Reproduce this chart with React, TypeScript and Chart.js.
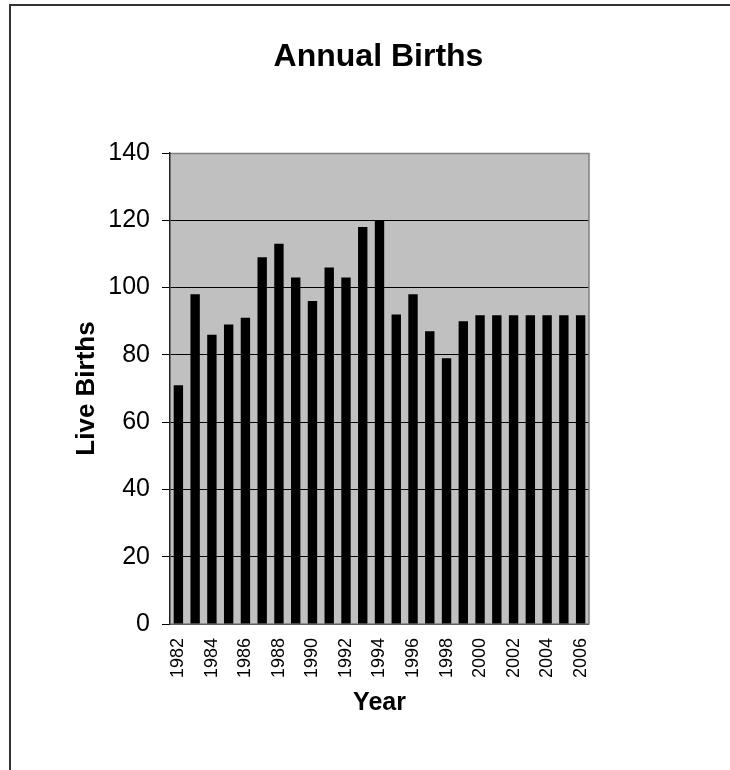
import { useEffect, useRef } from 'react';
import { Chart, registerables } from 'chart.js';

Chart.register(...registerables);

const years = [
  '1982', '1983', '1984', '1985', '1986', '1987', '1988', '1989', '1990', '1991',
  '1992', '1993', '1994', '1995', '1996', '1997', '1998', '1999', '2000', '2001',
  '2002', '2003', '2004', '2005', '2006',
];
const births = [
  71, 98, 86, 89, 91, 109, 113, 103, 96, 106,
  103, 118, 120, 92, 98, 87, 79, 90, 91.8, 91.8,
  91.8, 91.8, 91.8, 91.8, 91.8,
];
const yMin = 0;
const yMax = 140;
const yStep = 20;
const chartTitle = 'Annual Births';
const xTitle = 'Year';
const yTitle = 'Live Births';

const FONT = '"Liberation Sans", Arial, Helvetica, sans-serif';

export default function App() {
  const ref = useRef<HTMLCanvasElement>(null);

  useEffect(() => {
    if (!ref.current) return;
    const plotDeco = {
      id: 'plotDeco',
      beforeDraw(chart: any) {
        const { ctx, chartArea } = chart;
        const { left, top, right, bottom } = chartArea;
        ctx.save();
        ctx.fillStyle = '#C0C0C0';
        ctx.fillRect(left, top, right - left, bottom - top);
        ctx.restore();
      },
      beforeDatasetsDraw(chart: any) {
        const { ctx, chartArea } = chart;
        const { left, top, right, bottom } = chartArea;
        ctx.save();
        ctx.strokeStyle = '#808080';
        ctx.lineWidth = 1.5;
        ctx.beginPath();
        ctx.moveTo(left + 1, top + 0.5);
        ctx.lineTo(right, top + 0.5);
        ctx.lineTo(right, bottom);
        ctx.lineTo(left + 1, bottom);
        ctx.stroke();
        ctx.restore();
      },
      afterDraw(chart: any) {
        const { ctx, chartArea } = chart;
        const cx = (chartArea.left + chartArea.right) / 2;
        ctx.save();
        ctx.fillStyle = '#000';
        ctx.font = `bold 32px ${FONT}`;
        ctx.textAlign = 'center';
        ctx.textBaseline = 'alphabetic';
        ctx.fillText(chartTitle, cx - 1, 66);
        ctx.restore();
      },
    };

    const chart = new Chart(ref.current, {
      type: 'bar',
      data: {
        labels: years,
        datasets: [
          {
            data: births,
            backgroundColor: '#000',
            borderWidth: 0,
            barPercentage: 0.56,
            categoryPercentage: 1,
          },
        ],
      },
      options: {
        animation: false,
        responsive: false,
        maintainAspectRatio: false,
        layout: { padding: { left: 0, right: 141, top: 153, bottom: 0 } },
        plugins: {
          legend: { display: false },
          title: { display: false },
          tooltip: { enabled: false },
        },
        scales: {
          x: {
            grid: { display: false, drawTicks: false },
            border: { display: false },
            ticks: {
              autoSkip: false,
              maxRotation: 90,
              minRotation: 90,
              padding: 14,
              color: '#000',
              font: { family: FONT, size: 18 },
              callback: (_v: any, i: number) => (i % 2 === 0 ? years[i] : ''),
            },
            title: {
              display: true,
              text: xTitle,
              color: '#000',
              font: { family: FONT, size: 25, weight: 'bold' },
              padding: { top: 0, bottom: 52 },
            },
            afterFit: (s: any) => {
              s.height = 146;
            },
          },
          y: {
            min: yMin,
            max: yMax,
            ticks: {
              stepSize: yStep,
              padding: 12,
              color: '#000',
              font: { family: FONT, size: 25 },
            },
            grid: { color: '#000', tickLength: 8, drawTicks: true, lineWidth: 1 },
            border: { display: true, color: '#222', width: 1.5 },
            title: {
              display: true,
              text: yTitle,
              color: '#000',
              font: { family: FONT, size: 26, weight: 'bold' },
              padding: { top: 71, bottom: 0 },
            },
            afterFit: (s: any) => {
              s.width = 170;
            },
          },
        },
      } as any,
      plugins: [plotDeco],
    });
    return () => chart.destroy();
  }, []);

  return (
    <div style={{ position: 'absolute', left: 0, top: 0, width: 730, height: 770, background: '#fff', overflow: 'hidden' }}>
      <canvas
        ref={ref}
        width={730}
        height={770}
        style={{ position: 'absolute', left: 0, top: 0, width: 730, height: 770 }}
      />
      <div
        style={{
          position: 'absolute',
          left: 9,
          top: 4,
          right: 0,
          bottom: 0,
          borderLeft: '2px solid #333',
          borderTop: '2px solid #333',
          pointerEvents: 'none',
        }}
      />
    </div>
  );
}
